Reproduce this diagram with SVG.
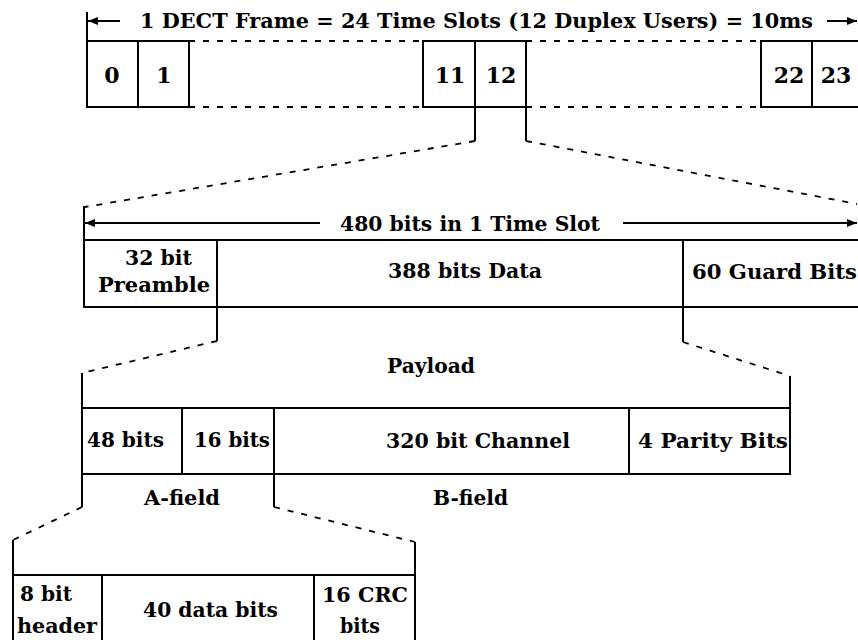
<svg xmlns="http://www.w3.org/2000/svg" width="858" height="640" viewBox="0 0 858 640">
<style>
.bg{fill:#ffffff}
.box{fill:none;stroke:#000;stroke-width:2}
.tick{fill:none;stroke:#000;stroke-width:2}
.dash{fill:none;stroke:#000;stroke-width:1.8;stroke-dasharray:6 8}
.arr{fill:none;stroke:#000;stroke-width:2}
text{font-family:"DejaVu Serif","Liberation Serif",serif;font-weight:bold;font-size:21px;fill:#000}
.mid{text-anchor:middle}
.num{font-size:22px}
</style>
<defs>
<marker id="ah" viewBox="0 0 10 8" refX="10" refY="4" markerWidth="10" markerHeight="8" markerUnits="userSpaceOnUse" orient="auto">
<path d="M0,0 L10,4 L0,8 z" fill="#000"/>
</marker>
</defs>
<rect class="bg" x="0" y="0" width="858" height="640"/>

<g id="frame-title">
<text x="140" y="28" textLength="673" lengthAdjust="spacingAndGlyphs">1 DECT Frame = 24 Time Slots (12 Duplex Users) = 10ms</text>
</g>
<g id="slot-0"><rect class="box" x="87" y="41" width="51" height="66"/><text class="mid num" x="112" y="83">0</text></g>
<g id="slot-1"><rect class="box" x="138" y="41" width="51" height="66"/><text class="mid num" x="164" y="83">1</text></g>
<g id="slot-11"><rect class="box" x="423" y="41" width="52" height="66"/><text class="mid num" x="450" y="83">11</text></g>
<g id="slot-12"><rect class="box" x="475" y="41" width="51" height="66"/><text class="mid num" x="501" y="83">12</text></g>
<g id="slot-22"><rect class="box" x="761" y="41" width="51" height="66"/><text class="mid num" x="789" y="83">22</text></g>
<g id="slot-23"><rect class="box" x="812" y="41" width="60" height="66"/><text class="mid num" x="836" y="83">23</text></g>

<g id="slot-title">
<text x="340" y="231" textLength="260" lengthAdjust="spacingAndGlyphs">480 bits in 1 Time Slot</text>
</g>
<g id="preamble"><rect class="box" x="84" y="240" width="133" height="67"/>
<text x="125" y="265" textLength="67" lengthAdjust="spacingAndGlyphs">32 bit</text>
<text x="98" y="292" textLength="112" lengthAdjust="spacingAndGlyphs">Preamble</text></g>
<g id="data"><rect class="box" x="217" y="240" width="466" height="67"/>
<text x="388" y="278" textLength="154" lengthAdjust="spacingAndGlyphs">388 bits Data</text></g>
<g id="guard"><rect class="box" x="683" y="240" width="190" height="67"/>
<text x="692" y="279" textLength="165" lengthAdjust="spacingAndGlyphs">60 Guard Bits</text></g>

<g id="payload-title"><text x="387" y="373" textLength="88" lengthAdjust="spacingAndGlyphs">Payload</text></g>
<g id="a48"><rect class="box" x="82" y="408" width="100" height="66"/>
<text x="87" y="447" textLength="77" lengthAdjust="spacingAndGlyphs">48 bits</text></g>
<g id="a16"><rect class="box" x="182" y="408" width="92" height="66"/>
<text x="194" y="447" textLength="76" lengthAdjust="spacingAndGlyphs">16 bits</text></g>
<g id="channel"><rect class="box" x="274" y="408" width="355" height="66"/>
<text x="386" y="448" textLength="184" lengthAdjust="spacingAndGlyphs">320 bit Channel</text></g>
<g id="parity"><rect class="box" x="629" y="408" width="161" height="66"/>
<text x="638" y="448" textLength="150" lengthAdjust="spacingAndGlyphs">4 Parity Bits</text></g>
<g id="a-field"><text x="144" y="505" textLength="76" lengthAdjust="spacingAndGlyphs">A-field</text></g>
<g id="b-field"><text x="433" y="505" textLength="75" lengthAdjust="spacingAndGlyphs">B-field</text></g>

<g id="header"><rect class="box" x="13" y="575" width="89" height="80"/>
<text x="20" y="601" textLength="52" lengthAdjust="spacingAndGlyphs">8 bit</text>
<text x="17" y="633" textLength="80" lengthAdjust="spacingAndGlyphs">header</text></g>
<g id="data-bits"><rect class="box" x="102" y="575" width="212" height="80"/>
<text x="143" y="617" textLength="135" lengthAdjust="spacingAndGlyphs">40 data bits</text></g>
<g id="crc"><rect class="box" x="314" y="575" width="101" height="80"/>
<text x="322" y="602" textLength="86" lengthAdjust="spacingAndGlyphs">16 CRC</text>
<text x="340" y="633" textLength="40" lengthAdjust="spacingAndGlyphs">bits</text></g>

<g id="connectors">
<line class="tick" x1="87" y1="12" x2="87" y2="41"/>
<line class="arr" x1="120" y1="21" x2="88" y2="21" marker-end="url(#ah)"/>
<line class="arr" x1="827" y1="21" x2="857" y2="21" marker-end="url(#ah)"/>
<line class="dash" x1="189" y1="41" x2="423" y2="41"/>
<line class="dash" x1="189" y1="107" x2="423" y2="107"/>
<line class="dash" x1="526" y1="41" x2="761" y2="41"/>
<line class="dash" x1="526" y1="107" x2="761" y2="107"/>
<line class="tick" x1="475" y1="107" x2="475" y2="141"/>
<line class="tick" x1="526" y1="107" x2="526" y2="141"/>
<line class="dash" x1="475" y1="141" x2="85" y2="207"/>
<line class="dash" x1="526" y1="141" x2="857" y2="204"/>
<line class="tick" x1="84" y1="206" x2="84" y2="240"/>
<line class="arr" x1="320" y1="223" x2="85" y2="223" marker-end="url(#ah)"/>
<line class="arr" x1="623" y1="223" x2="857" y2="223" marker-end="url(#ah)"/>
<line class="tick" x1="217" y1="307" x2="217" y2="341"/>
<line class="tick" x1="683" y1="307" x2="683" y2="342"/>
<line class="dash" x1="217" y1="341" x2="82" y2="373"/>
<line class="dash" x1="683" y1="342" x2="790" y2="376"/>
<line class="tick" x1="82" y1="373" x2="82" y2="408"/>
<line class="tick" x1="790" y1="376" x2="790" y2="408"/>
<line class="tick" x1="82" y1="474" x2="82" y2="507"/>
<line class="tick" x1="274" y1="474" x2="274" y2="507"/>
<line class="dash" x1="82" y1="507" x2="13" y2="540"/>
<line class="dash" x1="274" y1="507" x2="415" y2="542"/>
<line class="tick" x1="13" y1="540" x2="13" y2="575"/>
<line class="tick" x1="415" y1="542" x2="415" y2="575"/>
</g>
</svg>
